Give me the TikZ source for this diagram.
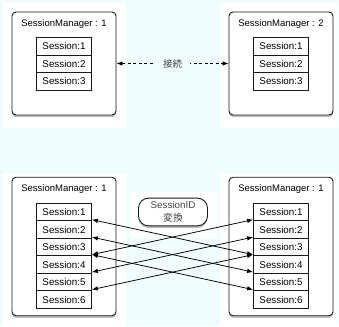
\documentclass[tikz,border=0pt]{standalone}
\usepackage{fontspec}
\setmainfont{Liberation Sans}
\newfontfamily\jpfont{Noto Sans CJK JP}
\usepackage{xcolor}
\usetikzlibrary{arrows.meta, positioning, shadows}
\definecolor{canvascyan}{RGB}{240,253,255}
\definecolor{labelgray}{RGB}{70,70,70}
\tikzset{
  groupbg/.style={fill=white, draw=none},
  managerbox/.style={
    draw=black!90, line width=0.9pt, rounded corners=4pt, fill=white,
    minimum width=104pt, inner sep=0pt,
    drop shadow={shadow xshift=0pt, shadow yshift=-2.2pt, opacity=0.5}
  },
  mgrtitle/.style={
    font=\fontsize{9.5}{11}\selectfont, inner sep=0pt
  },
  sessionbox/.style={
    draw=black!90, line width=0.75pt, fill=white, inner sep=0pt,
    minimum width=55pt, minimum height=17.5pt,
    font=\fontsize{9.8}{11}\selectfont
  },
  convbox/.style={
    draw=black!90, line width=0.9pt, rounded corners=10pt, fill=white,
    minimum width=69pt, minimum height=27.7pt, inner sep=0pt,
    align=center, text=labelgray, font=\fontsize{9.8}{13.5}\selectfont,
    drop shadow={shadow xshift=0pt, shadow yshift=-2.2pt, opacity=0.5}
  },
  linkarrow/.style={
    {Latex[length=6pt,width=4.5pt]}-{Latex[length=6pt,width=4.5pt]},
    line width=0.75pt, dash pattern=on 3.2pt off 2.3pt
  },
  linklabel/.style={
    fill=canvascyan, text=labelgray, inner xsep=8pt,
    font=\jpfont\fontsize{9.5}{11}\selectfont
  },
  swaparrow/.style={
    {Latex[length=6pt,width=4.5pt]}-{Latex[length=6pt,width=4.5pt]},
    line width=0.75pt
  },
}

\begin{document}
\begin{tikzpicture}[x=1pt, y=1pt]
  % Canvas
  \fill[canvascyan] (0,0) rectangle (339,326);
  \useasboundingbox (0,0) rectangle (339,326);

  % Group backgrounds
  \fill[groupbg] (3,198) rectangle (126,323);
  \fill[groupbg] (220,198) rectangle (338,323);
  \fill[groupbg] (3,0) rectangle (126,152);
  \fill[groupbg] (220,0) rectangle (338,152);
  \fill[groupbg] (130,88) rectangle (217,134);

  % Upper pair: managers
  \node[managerbox, minimum height=103pt] (upleft) at (64,262.5) {};
  \node[managerbox, minimum height=103pt] (upright) at (281,262.5) {};
  \node[mgrtitle] (uplefttitle) at (64,302) {SessionManager : 1};
  \node[mgrtitle] (uprighttitle) at (281,302) {SessionManager : 2};

  \node[sessionbox] (ul1) at (64,279.5) {Session:1};
  \node[sessionbox] (ul2) at (64,262) {Session:2};
  \node[sessionbox] (ul3) at (64,244.5) {Session:3};
  \node[sessionbox] (ur1) at (281,279.5) {Session:1};
  \node[sessionbox] (ur2) at (281,262) {Session:2};
  \node[sessionbox] (ur3) at (281,244.5) {Session:3};

  % Connection
  \draw[linkarrow] (upleft.east) -- node[linklabel] {接続} (upright.west);

  % Lower pair: managers
  \node[managerbox, minimum height=138.4pt] (lowleft) at (64,79.5) {};
  \node[managerbox, minimum height=138.4pt] (lowright) at (281,79.5) {};
  \node[mgrtitle] (lowlefttitle) at (64,136.7) {SessionManager : 1};
  \node[mgrtitle] (lowrighttitle) at (281,136.7) {SessionManager : 1};

  \node[sessionbox] (ll1) at (64,114) {Session:1};
  \node[sessionbox] (ll2) at (64,96.5) {Session:2};
  \node[sessionbox] (ll3) at (64,79) {Session:3};
  \node[sessionbox] (ll4) at (64,61.5) {Session:4};
  \node[sessionbox] (ll5) at (64,44) {Session:5};
  \node[sessionbox] (ll6) at (64,26.5) {Session:6};
  \node[sessionbox] (lr1) at (281,114) {Session:1};
  \node[sessionbox] (lr2) at (281,96.5) {Session:2};
  \node[sessionbox] (lr3) at (281,79) {Session:3};
  \node[sessionbox] (lr4) at (281,61.5) {Session:4};
  \node[sessionbox] (lr5) at (281,44) {Session:5};
  \node[sessionbox] (lr6) at (281,26.5) {Session:6};

  % SessionID conversion
  \node[convbox] (convert) at (173,114) {SessionID\\{\jpfont 変換}};

  \draw[swaparrow] ([yshift=1.5pt]ll1.south east) -- ([yshift=1.5pt]lr3.south west);
  \draw[swaparrow] ([yshift=1.5pt]ll2.south east) -- ([yshift=1.5pt]lr4.south west);
  \draw[swaparrow] ([yshift=1.5pt]ll3.south east) -- ([yshift=1.5pt]lr1.south west);
  \draw[swaparrow] ([yshift=1.5pt]ll3.south east) -- ([yshift=1.5pt]lr5.south west);
  \draw[swaparrow] ([yshift=1.5pt]ll4.south east) -- ([yshift=1.5pt]lr2.south west);
  \draw[swaparrow] ([yshift=1.5pt]ll5.south east) -- ([yshift=1.5pt]lr3.south west);
\end{tikzpicture}
\end{document}
